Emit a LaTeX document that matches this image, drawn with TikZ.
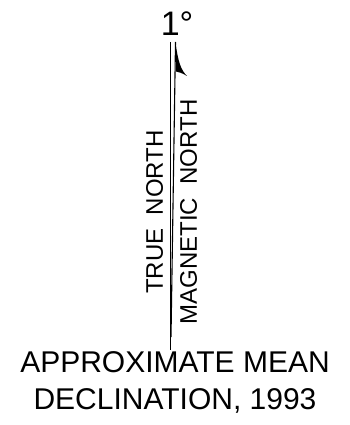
\documentclass[tikz,border=0pt]{standalone}
\usepackage{fontspec}
\setmainfont{Liberation Sans}
\begin{document}
\begin{tikzpicture}[x=1pt,y=-1pt,
  lbl/.style={inner sep=0pt, font=\fontsize{24}{28}\selectfont},
  ttl/.style={inner sep=0pt, align=center, font=\fontsize{30}{37}\selectfont},
  ln/.style={line width=1.1pt}]
\useasboundingbox (0,0) rectangle (349,425);
\coordinate (tnTop) at (170.5,42);
\coordinate (tnBot) at (170.5,350);
\coordinate (mnTop) at (175.5,42);
\coordinate (mnBot) at (171,337);
\draw[ln] (tnTop) -- (tnBot);
\draw[ln] (mnBot) -- (mnTop);
\fill (mnTop) .. controls (178,62) and (181,70) .. (187,76) .. controls (182,73) and (179,72) .. (176,71.5) -- cycle;
\node[inner sep=0pt, anchor=base, font=\fontsize{34}{38}\selectfont] (deg) at (177,35.5) {1°};
\node[lbl, rotate=90] (tn) at (154.5,212) {TRUE\ \ NORTH};
\node[lbl, rotate=90] (mn) at (188.5,212) {MAGNETIC\ \ NORTH};
\node[ttl, anchor=north] (title) at (175,351) {APPROXIMATE MEAN\\DECLINATION, 1993};
\end{tikzpicture}
\end{document}
